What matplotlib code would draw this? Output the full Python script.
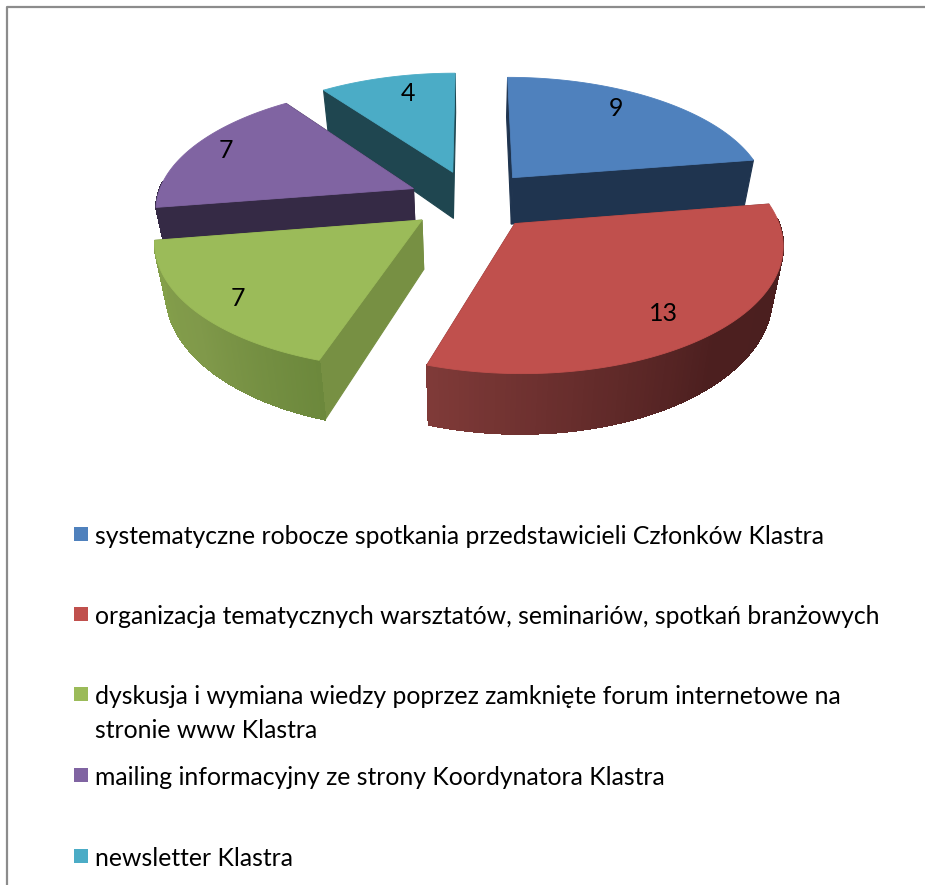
"""
Exploded 3D pie chart with a legend below, drawn in pixel coordinates
"""

import numpy as np
import matplotlib
matplotlib.use('Agg')
import matplotlib.pyplot as plt
from matplotlib.colors import to_rgb
from matplotlib.patches import Rectangle

categories = [
    'systematyczne robocze spotkania przedstawicieli Członków Klastra',
    'organizacja tematycznych warsztatów, seminariów, spotkań branżowych',
    'dyskusja i wymiana wiedzy poprzez zamknięte forum internetowe na\nstronie www Klastra',
    'mailing informacyjny ze strony Koordynatora Klastra',
    'newsletter Klastra',
]
values = [9, 13, 7, 7, 4]

top_colors = ['#4f81bd', '#c0504d', '#9bbb59', '#8064a2', '#4bacc6']
wall_colors = ['#1f344f', '#7a3433', '#779043', '#352a45', '#1f4650']
# side colour at the start, the middle and the end angle of each slice
strip_colors = [('#1f344f', '#1f344f', '#1f344f'), ('#4a1e1e', '#4c1f1f', '#7f3a38'),
                ('#6c883c', '#80994a', '#84a04a'), ('#352a45', '#352a45', '#352a45'),
                ('#1f4650', '#1f4650', '#1f4650')]
legend_y = [535, 615, 695, 776, 857]
# value labels, offset from the point on the slice bisector
label_nudge = [(-2, -11), (10, 14), (-26, 15), (-28, -7), (4, -8)]

# projection settings, in pixels
CX, CY = 472, 200
RX, RY = 257, 120.8
PERSP = 0.1445
DROP = 48
SHRINK = 0.035
EXPLODE = 0.25


def project(px, py, d=0.0):
    """Project a point of the unit disc, d = 0 top face, d = 1 bottom face"""
    s = 1.0 / (1.0 + PERSP * py)
    sx = 1.0 / (1.0 + PERSP * py + SHRINK * d)
    return CX + RX * px * sx, CY - RY * py * s + DROP * d * s ** 1.2


def disc_point(theta, mid, r=1.0):
    ox = EXPLODE * np.sin(mid)
    oy = EXPLODE * np.cos(mid)
    return ox + r * np.sin(theta), oy + r * np.cos(theta)


def draw_quad(ax, p0, p1, color, zorder, aa=True):
    """Vertical face between two disc points"""
    corners = [project(*p0), project(*p1), project(*p1, 1.0), project(*p0, 1.0)]
    xs, ys = zip(*corners)
    ax.fill(xs, ys, color=color, lw=0.8, zorder=zorder, antialiased=aa)


def draw_slice(ax, start, end, idx, zorder):
    mid = (start + end) / 2
    apex = disc_point(0, mid, 0.0)
    thetas = np.linspace(start, end, 120)

    # walls of the cut
    draw_quad(ax, apex, disc_point(start, mid), wall_colors[idx], zorder)
    draw_quad(ax, apex, disc_point(end, mid), wall_colors[idx], zorder)

    # outer side with a gradient along the arc
    stops = np.array([to_rgb(c) for c in strip_colors[idx]])
    for i in range(len(thetas) - 1):
        if np.cos(thetas[i]) > 0.05:
            continue
        t = i / (len(thetas) - 2)
        color = [np.interp(t, [0, 0.5, 1], stops[:, k]) for k in range(3)]
        draw_quad(ax, disc_point(thetas[i], mid), disc_point(thetas[i + 1], mid), tuple(color),
                  zorder + 0.1, aa=False)

    # top face
    pts = [project(*apex)] + [project(*disc_point(t, mid)) for t in thetas]
    xs, ys = zip(*pts)
    ax.fill(xs, ys, color=top_colors[idx], lw=0.6, zorder=zorder + 0.2)


def main():
    plt.rcParams['font.family'] = ['Lato', 'DejaVu Sans']
    fig = plt.figure(figsize=(9.25, 8.85), dpi=100)
    ax = fig.add_axes([0, 0, 1, 1])
    ax.set_xlim(0, 925)
    ax.set_ylim(885, 0)
    ax.axis('off')

    # chart frame, only the top and left edges are in view
    ax.plot([7, 7, 925], [885, 7, 7], color='#8c8c8c', lw=1.6)

    edges = np.radians(np.cumsum([0] + values) / sum(values) * 360)
    # back to front
    for z, idx in enumerate([4, 3, 0, 2, 1]):
        draw_slice(ax, edges[idx], edges[idx + 1], idx, 2 + z)

    for idx, v in enumerate(values):
        mid = (edges[idx] + edges[idx + 1]) / 2
        x, y = project(*disc_point(mid, mid, 0.72))
        ax.text(x + label_nudge[idx][0], y + label_nudge[idx][1], str(v), fontsize=18, color='black',
                ha='center', va='center', zorder=10)

    for name, y, color in zip(categories, legend_y, top_colors):
        ax.add_patch(Rectangle((74, y - 8), 14, 14, color=color, lw=0))
        ax.text(95, y - 10, name, fontsize=17.85, color='black', ha='left', va='top',
                linespacing=1.6, zorder=10)

    fig.savefig('out.png', dpi=100)


if __name__ == '__main__':
    main()
